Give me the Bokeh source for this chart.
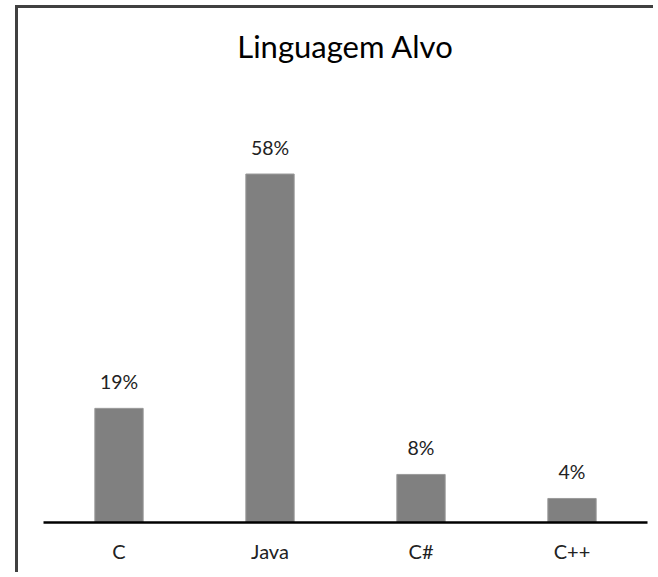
from bokeh.plotting import figure
from bokeh.models import ColumnDataSource, FactorRange, Range1d
from bokeh.core.properties import value
from bokeh.embed import file_html
from bokeh.resources import INLINE

categories = ["C", "Java", "C#", "C++"]
percent = [19, 58, 8, 4]
labels = ["19%", "58%", "8%", "4%"]

source = ColumnDataSource(data=dict(cat=categories, pct=percent, lbl=labels))

FONT = "Lato"

p = figure(
    x_range=FactorRange(*categories, range_padding=0),
    y_range=Range1d(0, 73.4),
    width=638, height=567,
    output_backend="svg", toolbar_location=None,
    min_border_left=25, min_border_right=9,
    min_border_top=72, min_border_bottom=53,
    margin=(5, 0, 0, 15),
    styles={"border-left": "3px solid #404040", "border-top": "3px solid #404040",
            "overflow": "hidden"},
)

p.title.text = "Linguagem Alvo"
p.title.align = "center"
p.title.text_font = FONT
p.title.text_font_size = "31px"
p.title.text_font_style = "normal"
p.title.text_color = "#000000"
p.title.standoff = 33

p.vbar(x="cat", top="pct", width=0.32, source=source,
       fill_color="#808080", line_color="#9a9a9a", line_width=1)

p.text(x="cat", y="pct", text="lbl", source=source,
       text_align="center", text_baseline="alphabetic", y_offset=-27,
       text_font=value(FONT), text_font_size="19.5px", text_color="#222222")

p.yaxis.visible = False
p.grid.visible = False
p.outline_line_color = None

ax = p.xaxis[0]
ax.axis_line_color = "black"
ax.axis_line_width = 2.5
ax.major_tick_line_color = None
ax.minor_tick_line_color = None
ax.major_label_text_font = FONT
ax.major_label_text_font_size = "20px"
ax.major_label_text_color = "#222222"
ax.major_label_standoff = 10

open("out.html", "w").write(file_html(p, INLINE))
